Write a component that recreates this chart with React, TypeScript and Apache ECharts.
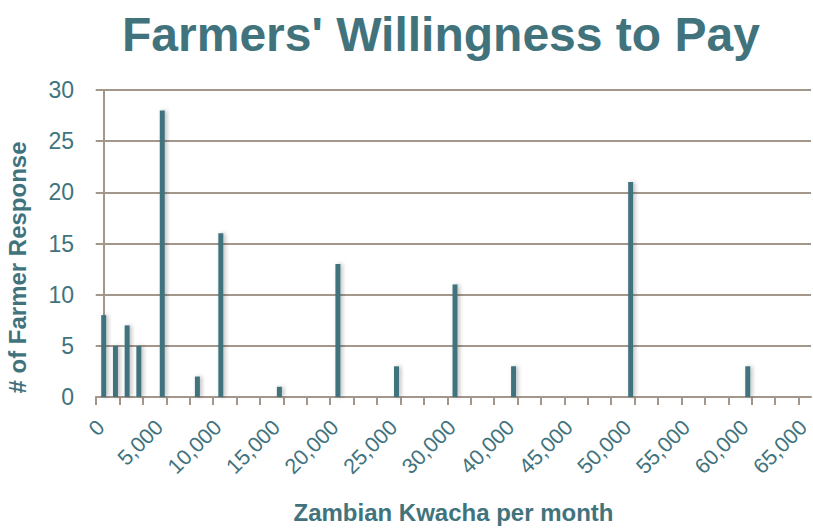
import React, { useEffect, useRef } from "react";
import * as echarts from "echarts";

// Willingness-to-pay values (Kwacha per month) and farmer counts
const paymentValues = [0, 1000, 2000, 3000, 5000, 8000, 10000, 15000, 20000, 25000, 30000, 40000, 50000, 60000];
const farmerCounts = [8, 5, 7, 5, 28, 2, 16, 1, 13, 3, 11, 3, 21, 3];

// Tick labels shown on the x axis (the original axis skips 35,000)
const xTickLabels = ["0", "5,000", "10,000", "15,000", "20,000", "25,000", "30,000", "40,000", "45,000", "50,000", "55,000", "60,000", "65,000"];
const yTickLabels = ["0", "5", "10", "15", "20", "25", "30"];

const TEAL = "#41737d";
const AXIS = "#a3968b";
const FONT = "'Liberation Sans', Arial, Helvetica, sans-serif";

// the original axis is compressed after 30,000 (one label slot missing)
const toAxisPos = (v: number) => (v > 30000 ? v - 5000 : v);

export default function App() {
  const ref = useRef<HTMLDivElement>(null);
  useEffect(() => {
    if (!ref.current) return;
    const chart = echarts.init(ref.current, null, { renderer: "svg" });
    const xMin = -660;
    const xMax = 60400;
    const tickStep = 2000;
    const tickValues: number[] = [];
    for (let v = xMin; v <= xMax; v += tickStep) tickValues.push(v);
    const labelPositions = xTickLabels.map((_, i) => i * 5000);

    chart.setOption({
      animation: false,
      backgroundColor: "#ffffff",
      title: {
        text: "Farmers' Willingness to Pay",
        left: 117,
        top: 5,
        textStyle: { fontFamily: FONT, fontSize: 48, fontWeight: "bold", color: TEAL },
      },
      grid: { left: 96, right: 2, top: 90, bottom: 134, containLabel: false, outerBoundsMode: "none" },
      xAxis: {
        type: "value",
        min: xMin,
        max: xMax,
        interval: tickStep,
        name: "Zambian Kwacha per month",
        nameLocation: "middle",
        nameGap: 103,
        nameTextStyle: { fontFamily: FONT, fontSize: 24, fontWeight: "bold", color: TEAL },
        axisLine: { show: true, onZero: false, lineStyle: { color: AXIS, width: 2 } },
        axisTick: { show: true, length: 8, customValues: tickValues, lineStyle: { color: AXIS, width: 2 } },
        axisLabel: {
          customValues: labelPositions,
          rotate: 45,
          margin: 24,
          fontFamily: FONT,
          fontSize: 21.5,
          lineHeight: 14,
          padding: [0, 4, 0, 0],
          color: TEAL,
          hideOverlap: false,
          formatter: (v: number) => {
            const i = labelPositions.indexOf(v);
            return i >= 0 ? xTickLabels[i] : "";
          },
        },
        splitLine: { show: false },
      },
      yAxis: {
        type: "value",
        min: 0,
        max: 30,
        interval: 5,
        name: "# of Farmer Response",
        nameLocation: "middle",
        nameGap: 67,
        nameRotate: 90,
        nameTextStyle: { fontFamily: FONT, fontSize: 24, fontWeight: "bold", color: TEAL, padding: [0, 48, 0, 0] },
        axisLine: { show: true, lineStyle: { color: AXIS, width: 2 } },
        axisTick: { show: true, length: 8, lineStyle: { color: AXIS, width: 2 } },
        axisLabel: {
          margin: 22,
          fontFamily: FONT,
          fontSize: 23,
          color: TEAL,
          formatter: (v: number) => yTickLabels[Math.round(v / 5)] ?? String(v),
        },
        splitLine: { show: true, lineStyle: { color: AXIS, width: 2 } },
      },
      series: [
        {
          type: "bar",
          barWidth: 5,
          data: paymentValues.map((v, i) => [toAxisPos(v), farmerCounts[i]]),
          itemStyle: {
            color: TEAL,
            shadowColor: "rgba(0,0,0,0.25)",
            shadowBlur: 4,
            shadowOffsetX: 2,
          },
        },
      ],
    });
    return () => chart.dispose();
  }, []);
  return <div ref={ref} style={{ position: "fixed", left: 0, top: 0, width: 813, height: 531 }} />;
}
